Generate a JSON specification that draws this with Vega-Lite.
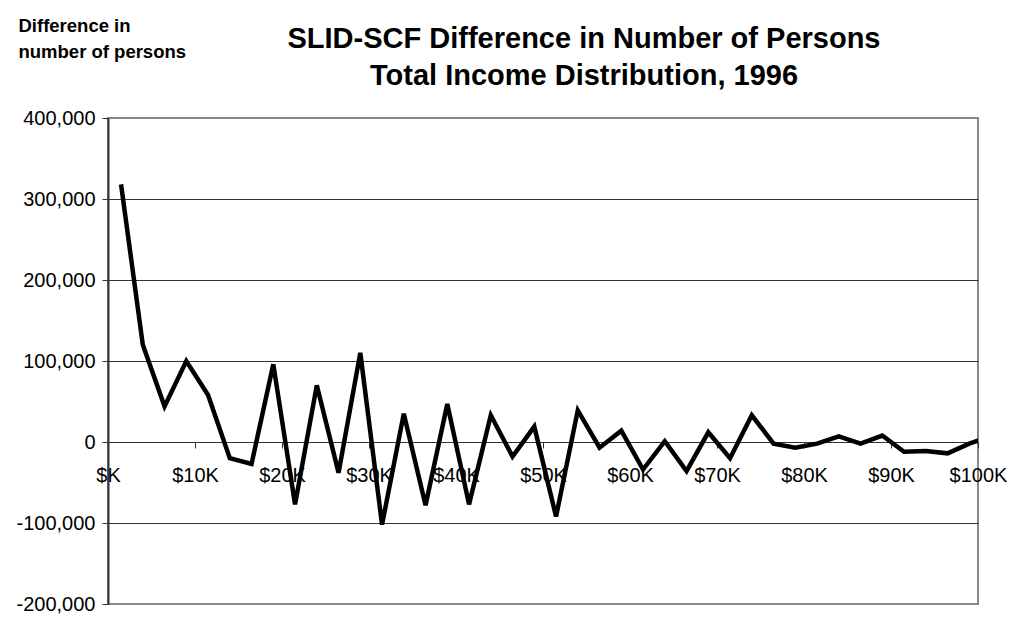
{
  "$schema": "https://vega.github.io/schema/vega-lite/v6.json",
  "width": 870,
  "height": 486,
  "autosize": "none",
  "padding": {"left": 108, "top": 118, "right": 32, "bottom": 15},
  "background": "white",
  "config": {
    "font": "Liberation Sans",
    "view": {"stroke": "#888888", "strokeWidth": 2}
  },
  "title": {
    "text": ["SLID-SCF Difference in Number of Persons", "Total Income Distribution, 1996"],
    "anchor": "middle",
    "frame": "group",
    "dx": 41,
    "dy": 75,
    "offset": 0,
    "fontSize": 29,
    "fontWeight": "bold",
    "font": "Liberation Sans",
    "color": "black",
    "lineHeight": 37
  },
  "data": {
    "values": [
      {"income": 1.5, "diff": 318000},
      {"income": 4, "diff": 120000},
      {"income": 6.5, "diff": 44000},
      {"income": 9, "diff": 100000},
      {"income": 11.5, "diff": 58000},
      {"income": 14, "diff": -20000},
      {"income": 16.5, "diff": -27000},
      {"income": 19, "diff": 96000},
      {"income": 21.5, "diff": -77000},
      {"income": 24, "diff": 70000},
      {"income": 26.5, "diff": -38000},
      {"income": 29, "diff": 110000},
      {"income": 31.5, "diff": -102000},
      {"income": 34, "diff": 35000},
      {"income": 36.5, "diff": -78000},
      {"income": 39, "diff": 47000},
      {"income": 41.5, "diff": -77000},
      {"income": 44, "diff": 33000},
      {"income": 46.5, "diff": -18000},
      {"income": 49, "diff": 19000},
      {"income": 51.5, "diff": -92000},
      {"income": 54, "diff": 39000},
      {"income": 56.5, "diff": -7000},
      {"income": 59, "diff": 14000},
      {"income": 61.5, "diff": -34000},
      {"income": 64, "diff": 1000},
      {"income": 66.5, "diff": -36000},
      {"income": 69, "diff": 12000},
      {"income": 71.5, "diff": -20000},
      {"income": 74, "diff": 33000},
      {"income": 76.5, "diff": -2000},
      {"income": 79, "diff": -7000},
      {"income": 81.5, "diff": -2000},
      {"income": 84, "diff": 7000},
      {"income": 86.5, "diff": -2000},
      {"income": 89, "diff": 8000},
      {"income": 91.5, "diff": -12000},
      {"income": 94, "diff": -11000},
      {"income": 96.5, "diff": -14000},
      {"income": 99, "diff": -2000},
      {"income": 101.5, "diff": 7000}
    ]
  },
  "mark": {"type": "line", "color": "black", "strokeWidth": 4.5, "strokeJoin": "miter", "strokeCap": "butt", "clip": true},
  "encoding": {
    "x": {
      "field": "income",
      "type": "quantitative",
      "scale": {"domain": [0, 100], "nice": false, "zero": false},
      "axis": {
        "title": null,
        "values": [0, 10, 20, 30, 40, 50, 60, 70, 80, 90, 100],
        "labelExpr": "datum.value == 0 ? '$K' : '$' + datum.value + 'K'",
        "offset": -162,
        "grid": false,
        "domain": true,
        "domainColor": "#333333",
        "domainWidth": 1,
        "tickColor": "#333333",
        "tickSize": 6,
        "labelPadding": 17,
        "labelFontSize": 20,
        "labelColor": "black",
        "labelFont": "Liberation Sans",
        "labelOverlap": false,
        "labelFlush": false
      }
    },
    "y": {
      "field": "diff",
      "type": "quantitative",
      "scale": {"domain": [-200000, 400000], "nice": false, "zero": false},
      "axis": {
        "title": ["Difference in", "number of persons"],
        "titleAngle": 0,
        "titleAlign": "left",
        "titleBaseline": "alphabetic",
        "titleX": -90,
        "titleY": -87,
        "titleFontSize": 18.5,
        "titleFontWeight": "bold",
        "titleColor": "black",
        "titleLineHeight": 26,
        "titleFont": "Liberation Sans",
        "values": [-200000, -100000, 0, 100000, 200000, 300000, 400000],
        "format": ",.0f",
        "labelExpr": "replace(datum.label, '\u2212', '-')",
        "labelFontSize": 20,
        "labelColor": "black",
        "labelFont": "Liberation Sans",
        "labelPadding": 7,
        "tickSize": 6,
        "tickColor": "#333333",
        "domainColor": "#333333",
        "domainWidth": 2,
        "grid": true,
        "gridColor": {"condition": {"test": "datum.value == 400000 || datum.value == -200000", "value": "#888888"}, "value": "#333333"},
        "gridWidth": 1,
        "labelFlush": false,
        "labelOverlap": false
      }
    }
  }
}
